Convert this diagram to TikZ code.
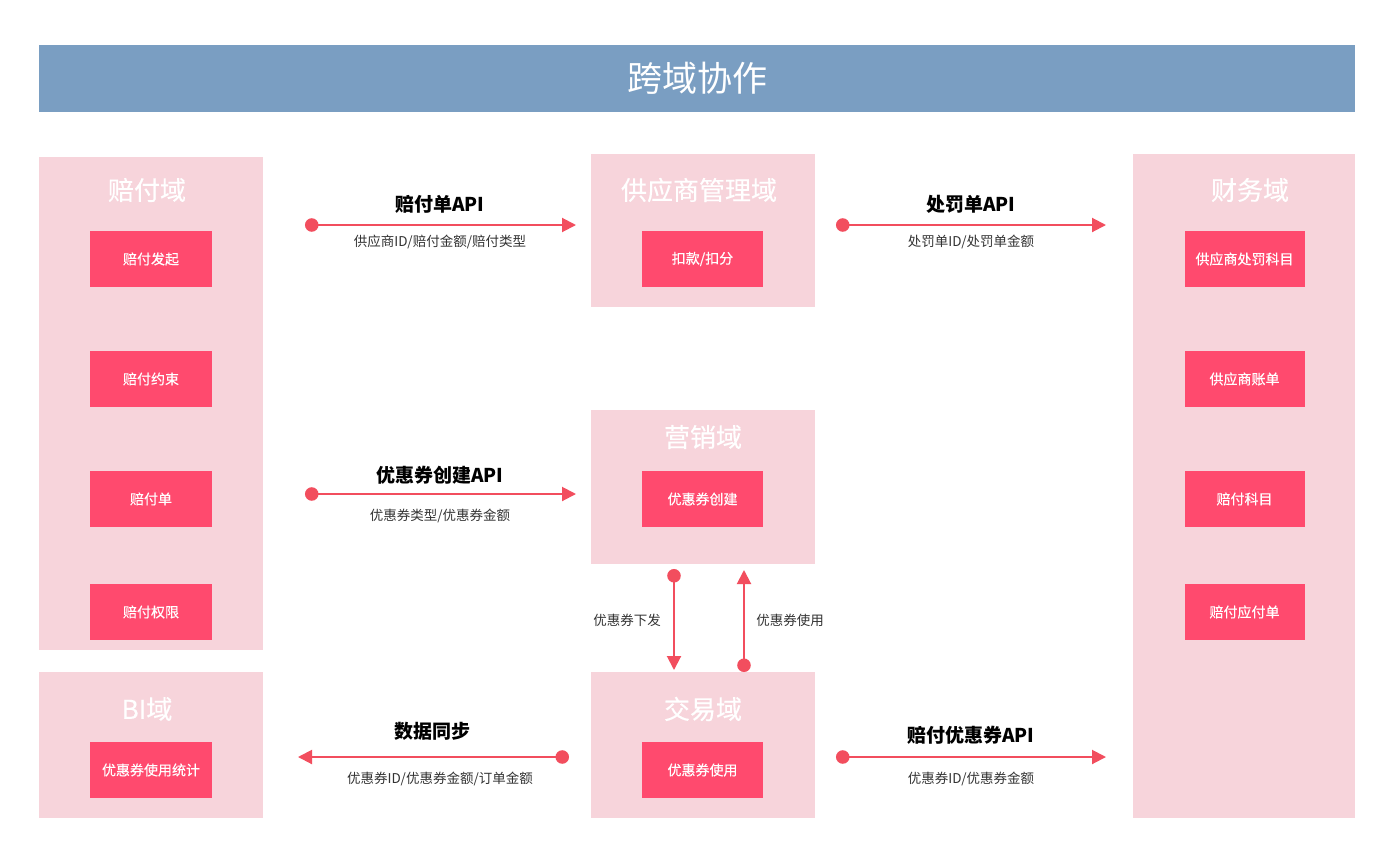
\documentclass[tikz,border=0pt]{standalone}
\usepackage{fontspec}
\setmainfont{Noto Sans CJK SC}
\newfontfamily\medfont{Noto Sans CJK SC}[FakeBold=0.35]
\usetikzlibrary{arrows.meta}
\definecolor{titlebar}{HTML}{7A9EC2}
\definecolor{dompink}{HTML}{F7D4DB}
\definecolor{boxpink}{HTML}{FF4A6E}
\definecolor{arrred}{HTML}{F24E5E}
\definecolor{txt}{HTML}{333333}
\tikzset{
  domainbg/.style={fill=dompink, draw=none, inner sep=0pt, anchor=north west},
  domtitle/.style={text=white, font=\medfont\fontsize{26}{30}\selectfont, inner sep=0pt},
  itembox/.style={fill=boxpink, draw=none, inner sep=0pt, minimum height=56pt, text=white, font=\medfont\fontsize{14}{16}\selectfont},
  apilabel/.style={text=black, font=\bfseries\fontsize{19}{22}\selectfont, inner sep=0pt},
  sublabel/.style={text=txt, font=\fontsize{13.5}{16}\selectfont, inner sep=0pt},
  flow/.style={draw=arrred, line width=2pt, {Circle[length=13.5pt,width=13.5pt]}-{Triangle[length=14pt,width=14pt]}},
}
\begin{document}
\begin{tikzpicture}[x=1pt,y=-1pt]
\useasboundingbox (0,0) rectangle (1386,846);
\fill[white] (0,0) rectangle (1386,846);
% title bar
\node[fill=titlebar, inner sep=0pt, minimum width=1316pt, minimum height=67pt, anchor=north west] (bar) at (39,45) {};
\node[text=white, font=\fontsize{35}{40}\selectfont, inner sep=0pt] (title) at (697,78) {跨域协作};
% domains
\node[domainbg, minimum width=224pt, minimum height=493pt] (peifu) at (39,157) {};
\node[domainbg, minimum width=224pt, minimum height=146pt] (bi) at (39,672) {};
\node[domainbg, minimum width=224pt, minimum height=153pt] (gys) at (591,154) {};
\node[domainbg, minimum width=224pt, minimum height=154pt] (yx) at (591,410) {};
\node[domainbg, minimum width=224pt, minimum height=146pt] (jy) at (591,672) {};
\node[domainbg, minimum width=222pt, minimum height=664pt] (cw) at (1133,154) {};
% domain titles
\node[domtitle] (peifuT) at (147,190) {赔付域};
\node[domtitle] (biT) at (147,709) {BI域};
\node[domtitle] (gysT) at (699,190) {供应商管理域};
\node[domtitle] (yxT) at (703,437) {营销域};
\node[domtitle] (jyT) at (703,709) {交易域};
\node[domtitle] (cwT) at (1250,190) {财务域};
% item boxes
\node[itembox, minimum width=122pt] (p1) at (151,259) {赔付发起};
\node[itembox, minimum width=122pt] (p2) at (151,379) {赔付约束};
\node[itembox, minimum width=122pt] (p3) at (151,499) {赔付单};
\node[itembox, minimum width=122pt] (p4) at (151,612) {赔付权限};
\node[itembox, minimum width=122pt] (b1) at (151,770) {优惠券使用统计};
\node[itembox, minimum width=121pt] (g1) at (702.5,259) {扣款/扣分};
\node[itembox, minimum width=121pt] (y1) at (702.5,499) {优惠券创建};
\node[itembox, minimum width=121pt] (j1) at (702.5,770) {优惠券使用};
\node[itembox, minimum width=120pt] (c1) at (1244.5,259) {供应商处罚科目};
\node[itembox, minimum width=120pt] (c2) at (1244.5,379) {供应商账单};
\node[itembox, minimum width=120pt] (c3) at (1244.5,499) {赔付科目};
\node[itembox, minimum width=120pt] (c4) at (1244.5,612) {赔付应付单};
% connector endpoints
\coordinate (a1s) at (305,225); \coordinate (a1e) at (576,225);
\coordinate (a2s) at (836,225); \coordinate (a2e) at (1106,225);
\coordinate (a3s) at (305,494); \coordinate (a3e) at (576,494);
\coordinate (a4s) at (569,757); \coordinate (a4e) at (298,757);
\coordinate (a5s) at (836,757); \coordinate (a5e) at (1106,757);
\coordinate (a6s) at (674,569); \coordinate (a6e) at (674,670);
\coordinate (a7s) at (744,672); \coordinate (a7e) at (744,570);
\draw[flow] (a1s) -- (a1e);
\draw[flow] (a2s) -- (a2e);
\draw[flow] (a3s) -- (a3e);
\draw[flow] (a4s) -- (a4e);
\draw[flow] (a5s) -- (a5e);
\draw[flow] (a6s) -- (a6e);
\draw[flow] (a7s) -- (a7e);
% labels
\node[apilabel] (l1) at (440,204) {赔付单API};
\node[sublabel] (s1) at (440,242) {供应商ID/赔付金额/赔付类型};
\node[apilabel] (l2) at (971,204) {处罚单API};
\node[sublabel] (s2) at (971,242) {处罚单ID/处罚单金额};
\node[apilabel] (l3) at (440,475) {优惠券创建API};
\node[sublabel] (s3) at (440,516) {优惠券类型/优惠券金额};
\node[apilabel] (l4) at (432,731) {数据同步};
\node[sublabel] (s4) at (440,779) {优惠券ID/优惠券金额/订单金额};
\node[apilabel] (l5) at (971,735) {赔付优惠券API};
\node[sublabel] (s5) at (971,779) {优惠券ID/优惠券金额};
\node[sublabel] (l6) at (627,620) {优惠券下发};
\node[sublabel] (l7) at (790,620) {优惠券使用};
\end{tikzpicture}
\end{document}
